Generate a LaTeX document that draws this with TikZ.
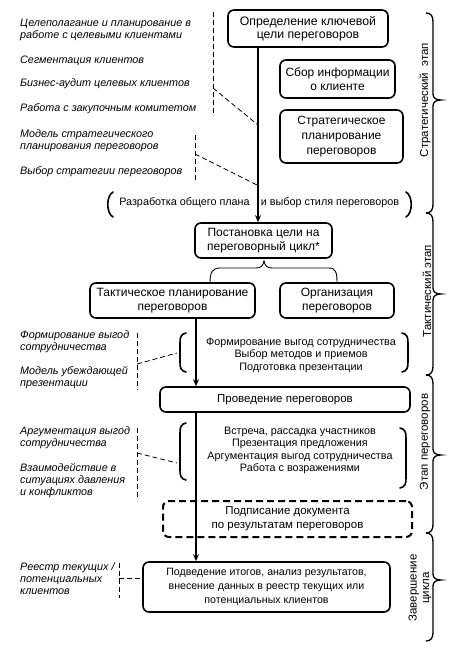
\documentclass[tikz,border=0pt]{standalone}
\usepackage{fontspec}
\setmainfont{Liberation Sans}
\usetikzlibrary{arrows.meta}
\newcommand\StageBrace[3]{%
  \draw[brc] (426,#1) .. controls (431,#1) and (433,#1+3) .. (433,#1+9)
    -- (433,#3-6) .. controls (433,#3-2) and (436,#3) .. (441,#3)
    .. controls (436,#3) and (433,#3+2) .. (433,#3+6)
    -- (433,#2-9) .. controls (433,#2-3) and (431,#2) .. (426,#2);}
\begin{document}
\begin{tikzpicture}[x=1pt,y=-1pt,
 box/.style={draw, line width=1.6pt, rounded corners=6pt, align=center, inner sep=0pt, font=\fontsize{12}{14}\selectfont},
 dbox/.style={box, dash pattern=on 7pt off 4pt, line width=2pt},
 lbl/.style={anchor=west, align=left, inner sep=0pt, font=\fontsize{10.8}{12}\selectfont\itshape},
 grp/.style={align=center, inner sep=0pt, font=\fontsize{10.8}{12.5}\selectfont},
 stg/.style={rotate=90, align=center, inner sep=0pt, font=\fontsize{11.5}{12.5}\selectfont},
 arr/.style={line width=1.3pt, -{Stealth[length=7pt,width=6pt]}},
 dsh/.style={line width=0.8pt, dash pattern=on 5pt off 3pt},
 par/.style={line width=1.6pt, line cap=round},
 brc/.style={line width=1.3pt},
 thinbrc/.style={line width=0.9pt},
]
\useasboundingbox[fill=white] (0,0) rectangle (450,649);

% boxes
\node[box, minimum width=160pt, minimum height=37pt, font=\fontsize{12.3}{13.5}\selectfont] (b1) at (308,28.5) {Определение ключевой\\цели переговоров};
\node[box, minimum width=115pt, minimum height=38pt] (b2) at (337.5,79) {Сбор информации\\о клиенте};
\node[box, minimum width=123pt, minimum height=53pt, font=\fontsize{12}{15}\selectfont] (b3) at (341.5,136.5) {Стратегическое\\планирование\\переговоров};
\node[grp] (r1) at (184.5,203) {Разработка общего плана};
\node[grp] (r2) at (330,203) {и выбор стиля переговоров};
\node[box, minimum width=137pt, minimum height=35pt] (b4) at (263.5,240.5) {Постановка цели на\\переговорный цикл*};
\node[box, minimum width=165pt, minimum height=35pt] (b5) at (172.5,300.5) {Тактическое планирование\\переговоров};
\node[box, minimum width=114pt, minimum height=35pt] (b6) at (337,300.5) {Организация\\переговоров};
\node[grp] (g2) at (301,355) {Формирование выгод сотрудничества\\Выбор методов и приемов\\Подготовка презентации};
\node[box, minimum width=250pt, minimum height=25pt, font=\fontsize{11.5}{14}\selectfont] (b7) at (285,399.5) {Проведение переговоров};
\node[grp] (g3) at (300,450.5) {Встреча, рассадка участников\\Презентация предложения\\Аргументация выгод сотрудничества\\Работа с возражениями};
\node[dbox, minimum width=249pt, minimum height=36pt, font=\fontsize{11.5}{14}\selectfont] (b8) at (287.5,519) {Подписание документа\\по результатам переговоров};
\node[box, minimum width=247pt, minimum height=50pt, font=\fontsize{10.6}{14}\selectfont] (b9) at (266.5,587) {Подведение итогов, анализ результатов,\\внесение данных в реестр текущих или\\потенциальных клиентов};

% arrows
\draw[arr] ([xshift=-50pt]b1.south) -- ([xshift=-50pt]b1.south |- b4.north);
\draw[arr] ([xshift=23.5pt]b5.south) -- ([xshift=23.5pt]b5.south |- b7.north);
\draw[arr] ([xshift=-89pt]b7.south) -- ([xshift=-89pt]b7.south |- b9.north);

% brace under b4
\draw[thinbrc] (210,283) .. controls (210,273) and (212,268) .. (220,268) -- (256,268)
  .. controls (261,268) and (263,266) .. (264,261)
  .. controls (265,266) and (267,268) .. (272,268) -- (329,268)
  .. controls (336,268) and (337,273) .. (337,283);

% parentheses
\draw[par] (113,192) .. controls (106,196) and (106,213) .. (113,217);
\draw[par] (406,192) .. controls (413,196) and (413,213) .. (406,217);
\draw[par] (186,333) .. controls (181,334) and (180,337) .. (180,343) -- (180,362) .. controls (180,368) and (181,371) .. (186,372);
\draw[par] (402,333) .. controls (407,334) and (408,337) .. (408,343) -- (408,362) .. controls (408,368) and (407,371) .. (402,372);
\draw[par] (186,423) .. controls (181,424) and (180,427) .. (180,433) -- (180,470) .. controls (180,476) and (181,479) .. (186,480);
\draw[par] (400,428) .. controls (405,429) and (406,432) .. (406,438) -- (406,478) .. controls (406,484) and (405,487) .. (400,488);

% left labels
\node[lbl] (l1) at (20,29.5) {Целеполагание и планирование в\\работе с целевыми клиентами};
\node[lbl] (l2) at (20,60.5) {Сегментация клиентов};
\node[lbl] (l3) at (20,84) {Бизнес-аудит целевых клиентов};
\node[lbl] (l4) at (20,109) {Работа с закупочным комитетом};
\node[lbl] (l5) at (20,141) {Модель стратегического\\планирования переговоров};
\node[lbl] (l6) at (20,172) {Выбор стратегии переговоров};
\node[lbl] (l7) at (20,342) {Формирование выгод\\сотрудничества};
\node[lbl] (l8) at (20,378) {Модель убеждающей\\презентации};
\node[lbl] (l9) at (20,438) {Аргументация выгод\\сотрудничества};
\node[lbl] (l10) at (20,481) {Взаимодействие в\\ситуациях давления\\и конфликтов};
\node[lbl] (l11) at (20,578.5) {Реестр текущих /\\потенциальных\\клиентов};

% dashed links
\draw[dsh] (213,12) -- (213,115);
\draw[dsh] (213,88) -- (258,125);
\draw[dsh] (195,135) -- (195,180);
\draw[dsh] (195,154) -- (257,185);
\draw[dsh] (137,333) -- (137,390);
\draw[dsh] (137,364) -- (177,353);
\draw[dsh] (137,428) -- (137,498);
\draw[dsh] (137,453) -- (177,463);
\draw[dsh] (119,563) -- (119,598);
\draw[dsh] (119,578) -- (b9.west |- 0,578);

% stage braces and labels
\StageBrace{13}{213}{100}
\StageBrace{213}{375}{294}
\StageBrace{375}{533}{455}
\StageBrace{533}{641}{580}
\node[stg] (s1) at (425,100) {Стратегический\ \ этап};
\node[stg] (s2) at (427,291) {Тактический этап};
\node[stg] (s3) at (425,442) {Этап переговоров};
\node[stg] (s4) at (420,588) {Завершение\\цикла};
\end{tikzpicture}
\end{document}
